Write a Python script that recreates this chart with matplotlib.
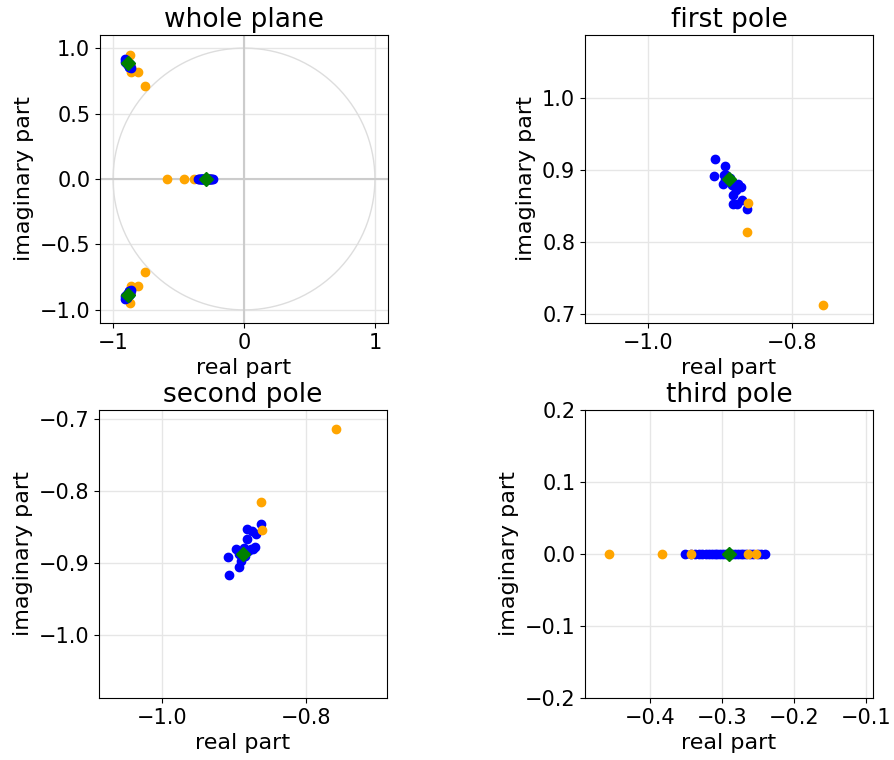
import matplotlib
matplotlib.use("Agg")
import matplotlib.pyplot as plt
import numpy as np

# estimated poles (green diamonds)
true_re = [-0.8875, -0.8875, -0.29]
true_im = [0.8875, -0.8875, 0.0]

# blue estimates, first pole
p1_blue_re = [-0.9065, -0.893, -0.909, -0.896, -0.891, -0.884, -0.875, -0.871, -0.882, -0.870,
              -0.882, -0.876, -0.862, -0.895, -0.889, -0.880, -0.886, -0.893, -0.878]
p1_blue_im = [0.915, 0.905, 0.891, 0.881, 0.893, 0.879, 0.881, 0.876, 0.865, 0.859,
              0.853, 0.853, 0.846, 0.893, 0.885, 0.880, 0.889, 0.886, 0.872]
# blue estimates, second pole
p2_blue_re = [-0.909, -0.907, -0.893, -0.897, -0.882, -0.875, -0.870, -0.862, -0.882, -0.871,
              -0.877, -0.886, -0.893, -0.885, -0.890, -0.880, -0.874]
p2_blue_im = [-0.892, -0.916, -0.906, -0.881, -0.853, -0.855, -0.860, -0.846, -0.866, -0.878,
              -0.881, -0.879, -0.888, -0.890, -0.897, -0.884, -0.880]
# blue estimates, third pole (real)
p3_blue_re = [-0.351, -0.343, -0.337, -0.332, -0.327, -0.322, -0.318, -0.314, -0.310, -0.306,
              -0.302, -0.298, -0.294, -0.290, -0.286, -0.282, -0.278, -0.274, -0.270, -0.266,
              -0.261, -0.256, -0.250, -0.245, -0.240]

# orange estimates per pole
p1_orange_re = [-0.861, -0.862, -0.757]
p1_orange_im = [0.854, 0.814, 0.713]
p2_orange_re = [-0.862, -0.861, -0.758]
p2_orange_im = [-0.815, -0.854, -0.714]
p3_orange_re = [-0.456, -0.383, -0.343, -0.2635, -0.253]

# orange points visible only in the whole-plane view
extra_orange_re = [-0.873, -0.807, -0.873, -0.807, -0.586]
extra_orange_im = [0.946, 0.815, -0.946, -0.815, 0.0]

blue = "blue"
orange = "orange"
green = "green"
ms = 6

fig = plt.figure(figsize=(8.94, 7.6), dpi=100)
W, H = 894, 760


def make_ax(x0, y0, x1, y1):
    return fig.add_axes([x0 / W, 1 - y1 / H, (x1 - x0) / W, (y1 - y0) / H])


def style(ax, title):
    ax.set_title(title, fontsize=19)
    ax.set_xlabel("real part", fontsize=16)
    ax.set_ylabel("imaginary part", fontsize=16)
    ax.tick_params(labelsize=15)
    ax.grid(True, color="#e6e6e6", linewidth=1)
    ax.set_axisbelow(True)


def draw(ax, bre, bim, ore, oim, k):
    ax.plot(bre, bim, "o", color=blue, ms=ms, zorder=3)
    ax.plot(ore, oim, "o", color=orange, ms=ms, zorder=4)
    ax.plot(true_re[k], true_im[k], "D", color=green, ms=7, zorder=5)


# whole plane
ax = make_ax(100, 35, 388, 323)
t = np.linspace(0, 2 * np.pi, 400)
ax.plot(np.cos(t), np.sin(t), color="#dddddd", lw=1, zorder=1)
ax.axhline(0, color="#cccccc", lw=1.5, zorder=1)
ax.axvline(0, color="#cccccc", lw=1.5, zorder=1)
all_bre = p1_blue_re + p2_blue_re + p3_blue_re
all_bim = p1_blue_im + p2_blue_im + [0.0] * len(p3_blue_re)
all_ore = p1_orange_re + p2_orange_re + p3_orange_re + extra_orange_re
all_oim = p1_orange_im + p2_orange_im + [0.0] * len(p3_orange_re) + extra_orange_im
ax.plot(all_ore, all_oim, "o", color=orange, ms=ms, zorder=2)
ax.plot(all_bre, all_bim, "o", color=blue, ms=ms, zorder=3)
ax.plot(true_re, true_im, "D", color=green, ms=7, zorder=5)
ax.set_xlim(-1.1, 1.1)
ax.set_ylim(-1.1, 1.1)
ax.set_xticks([-1, 0, 1])
ax.set_xticklabels(["\u22121", "0", "1"])
ax.set_yticks([-1.0, -0.5, 0.0, 0.5, 1.0])
style(ax, "whole plane")

# first pole
ax = make_ax(585, 35, 873, 323)
draw(ax, p1_blue_re, p1_blue_im, p1_orange_re, p1_orange_im, 0)
ax.set_xlim(true_re[0] - 0.2, true_re[0] + 0.2)
ax.set_ylim(true_im[0] - 0.2, true_im[0] + 0.2)
ax.set_xticks([-1.0, -0.8])
ax.set_yticks([0.7, 0.8, 0.9, 1.0])
style(ax, "first pole")

# second pole
ax = make_ax(99, 410, 387, 698)
draw(ax, p2_blue_re, p2_blue_im, p2_orange_re, p2_orange_im, 1)
ax.set_xlim(true_re[1] - 0.2, true_re[1] + 0.2)
ax.set_ylim(true_im[1] - 0.2, true_im[1] + 0.2)
ax.set_xticks([-1.0, -0.8])
ax.set_yticks([-1.0, -0.9, -0.8, -0.7])
style(ax, "second pole")

# third pole
ax = make_ax(585, 410, 873, 698)
draw(ax, p3_blue_re, [0.0] * len(p3_blue_re), p3_orange_re, [0.0] * len(p3_orange_re), 2)
ax.set_xlim(true_re[2] - 0.2, true_re[2] + 0.2)
ax.set_ylim(-0.2, 0.2)
ax.set_xticks([-0.4, -0.3, -0.2, -0.1])
ax.set_yticks([-0.2, -0.1, 0.0, 0.1, 0.2])
style(ax, "third pole")

fig.savefig("out.png", dpi=100)
